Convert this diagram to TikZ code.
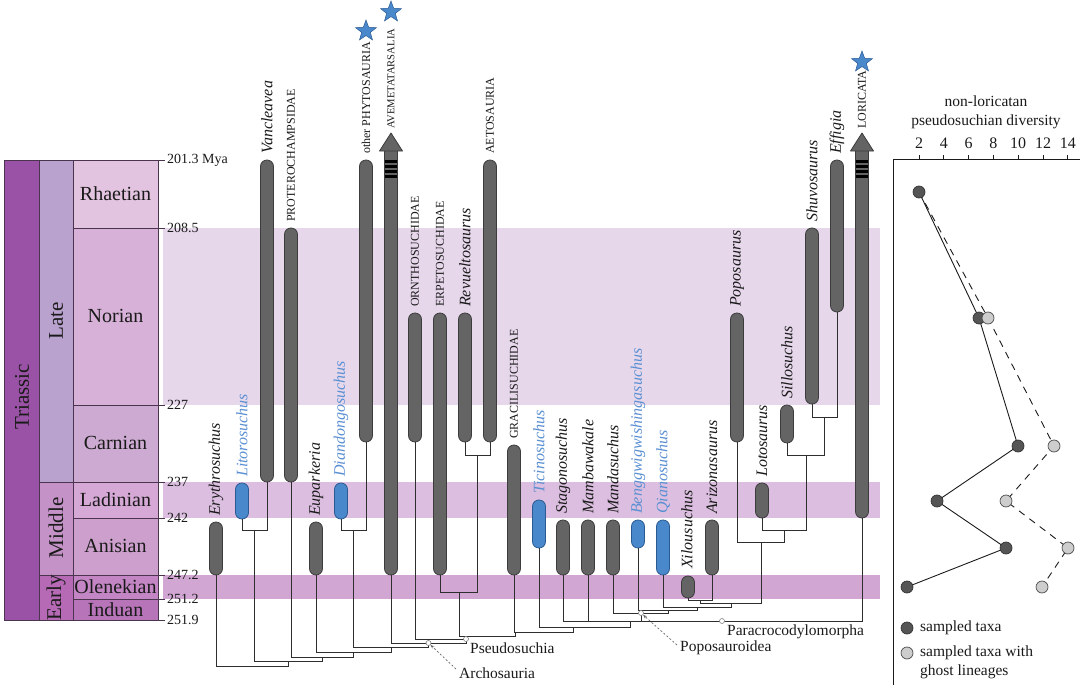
\documentclass[tikz,border=0pt]{standalone}
\usepackage{fontspec}
\setmainfont{Liberation Serif}
\usetikzlibrary{shapes.geometric,arrows.meta}
\definecolor{barfill}{HTML}{646464}
\definecolor{barline}{HTML}{3C3C3C}
\definecolor{bluefill}{HTML}{4A88CC}
\definecolor{blueline}{HTML}{2A5A92}
\definecolor{bluetext}{HTML}{5A8FD2}
\definecolor{treeline}{HTML}{2E2E2E}
\definecolor{cTri}{HTML}{9A52A6}
\definecolor{cLate}{HTML}{B9A2CE}
\definecolor{cMid}{HTML}{C592C8}
\definecolor{cEarly}{HTML}{B66AB6}
\definecolor{cRha}{HTML}{E3C4E0}
\definecolor{cNor}{HTML}{D7B1D7}
\definecolor{cCar}{HTML}{CDAAD1}
\definecolor{cLad}{HTML}{D6A8D5}
\definecolor{cAni}{HTML}{CC9FCD}
\definecolor{cOle}{HTML}{C385C4}
\definecolor{cInd}{HTML}{B874B9}
\definecolor{bNor}{HTML}{E6D7EB}
\definecolor{bLad}{HTML}{DCBFE0}
\definecolor{bOle}{HTML}{D2A6D3}
\definecolor{cellline}{HTML}{4B354E}
\definecolor{darkpt}{HTML}{555555}
\definecolor{lightpt}{HTML}{CDCDCD}
\definecolor{ink}{HTML}{1A1A1A}
\tikzset{
  gbar/.style={draw=barline, fill=barfill, line width=0.8pt, rectangle, rounded corners=6.4pt, minimum width=13pt, inner sep=0pt, outer sep=0pt},
  bbar/.style={gbar, draw=blueline, fill=bluefill},
  arrowbody/.style={draw=barline, fill=barfill, line width=0.8pt},
  tl/.style={draw=treeline, line width=1pt},
  taxit/.style={rotate=90, anchor=west, inner sep=0pt, font=\fontsize{16}{16}\selectfont\itshape, text=ink},
  taxbl/.style={taxit, text=bluetext},
  taxcap/.style={rotate=90, anchor=west, inner sep=0pt, font=\fontsize{12}{12}\selectfont, text=ink},
  cladelab/.style={anchor=west, inner sep=0pt, font=\fontsize{15.5}{15.5}\selectfont, text=ink},
  cell/.style={draw=cellline, line width=0.7pt},
  celltext/.style={font=\fontsize{20}{20}\selectfont, text=ink, inner sep=0pt},
  timelab/.style={anchor=west, font=\fontsize{14}{14}\selectfont, text=ink, inner sep=0pt},
  nodecirc/.style={circle, draw=gray, fill=white, inner sep=0pt, minimum size=5pt, line width=0.6pt},
  leader/.style={draw=gray!80!black, dashed, dash pattern=on 2pt off 2pt, line width=0.7pt, -{Stealth[length=4pt,width=3pt]}},
  bstar/.style={star, star points=5, star point ratio=2.4, fill=bluefill, draw=blueline, line width=0.5pt, minimum size=22pt, inner sep=0pt},
  dpt/.style={circle, draw=black!80, fill=darkpt, minimum size=12pt, inner sep=0pt, line width=0.7pt},
  lpt/.style={circle, draw=black!70, fill=lightpt, minimum size=12pt, inner sep=0pt, line width=0.7pt},
  panel/.style={font=\fontsize{15.5}{19}\selectfont, text=ink, inner sep=0pt}
}
\begin{document}
\begin{tikzpicture}[x=1pt,y=-1pt]
\useasboundingbox (0,0) rectangle (1080,685);
% background bands
\fill[bNor] (163,228) rectangle (880,405);
\fill[bLad] (163,482) rectangle (880,518);
\fill[bOle] (163,575) rectangle (880,599);
% time scale cells
\filldraw[cell, fill=cTri] (4,160) rectangle (39,620);
\filldraw[cell, fill=cLate] (39,160) rectangle (73,482);
\filldraw[cell, fill=cMid] (39,482) rectangle (73,575);
\filldraw[cell, fill=cEarly] (39,575) rectangle (73,620);
\filldraw[cell, fill=cRha] (73,160) rectangle (158,228);
\filldraw[cell, fill=cNor] (73,228) rectangle (158,405);
\filldraw[cell, fill=cCar] (73,405) rectangle (158,482);
\filldraw[cell, fill=cLad] (73,482) rectangle (158,518);
\filldraw[cell, fill=cAni] (73,518) rectangle (158,575);
\filldraw[cell, fill=cOle] (73,575) rectangle (158,599);
\filldraw[cell, fill=cInd] (73,599) rectangle (158,620);
\node[celltext, rotate=90, font=\fontsize{21}{21}\selectfont] (per) at (22,397) {Triassic};
\node[celltext, rotate=90, font=\fontsize{21}{21}\selectfont] (late) at (56,321) {Late};
\node[celltext, rotate=90, font=\fontsize{21}{21}\selectfont] (mid) at (56,528) {Middle};
\node[celltext, rotate=90, font=\fontsize{21}{21}\selectfont] (early) at (56,597.5) {Early};
\node[celltext] (rha) at (115.5,194) {Rhaetian};
\node[celltext] (nor) at (115.5,316) {Norian};
\node[celltext] (car) at (115.5,443) {Carnian};
\node[celltext] (lad) at (115.5,500) {Ladinian};
\node[celltext] (ani) at (115.5,546) {Anisian};
\node[celltext] (ole) at (115.5,587) {Olenekian};
\node[celltext] (ind) at (115.5,609.5) {Induan};
\foreach \yy/\tt in {160/201.3 Mya,228/208.5,405/227,482/237,518/242,575/247.2,599/251.2,620/251.9}{
  \draw[cell] (158,\yy) -- (165,\yy);
  \node[timelab] (t\yy) at (167,\yy) {\tt};
}
% ---------- bars ----------
\node[gbar, minimum height=53pt] (ery) at (216,548.5) {};
\node[bbar, minimum height=36pt] (lit) at (242,501) {};
\node[gbar, minimum height=322pt] (van) at (267,321) {};
\node[gbar, minimum height=254pt] (pro) at (291,355) {};
\node[gbar, minimum height=53pt] (eup) at (316,548.5) {};
\node[bbar, minimum height=36pt] (dia) at (341,501) {};
\node[gbar, minimum height=282pt] (phy) at (366,301) {};
\node[gbar, minimum height=129pt] (orn) at (415,377.5) {};
\node[gbar, minimum height=262pt] (erp) at (440,444) {};
\node[gbar, minimum height=129pt] (rev) at (465,377.5) {};
\node[gbar, minimum height=282pt] (aet) at (490,301) {};
\node[gbar, minimum height=130pt] (gra) at (514,510) {};
\node[bbar, minimum height=48pt] (tic) at (539,524) {};
\node[gbar, minimum height=55pt] (sta) at (563,547.5) {};
\node[gbar, minimum height=55pt] (mam) at (588,547.5) {};
\node[gbar, minimum height=55pt] (man) at (613,547.5) {};
\node[bbar, minimum height=28pt] (ben) at (638,534) {};
\node[bbar, minimum height=55pt] (qia) at (663,547.5) {};
\node[gbar, minimum height=22pt] (xil) at (688,587) {};
\node[gbar, minimum height=55pt] (ari) at (712,547.5) {};
\node[gbar, minimum height=129pt] (pop) at (737,377.5) {};
\node[gbar, minimum height=35pt] (lot) at (762,500.5) {};
\node[gbar, minimum height=38pt] (sil) at (787,424) {};
\node[gbar, minimum height=176pt] (shu) at (812,316) {};
\node[gbar, minimum height=152pt] (eff) at (837,236) {};
% arrows (Avemetatarsalia, Loricata)
\draw[arrowbody, rounded corners=6.4pt] (384.5,150) -- (384.5,575) -- (397.5,575) -- (397.5,150);
\draw[arrowbody, line join=round] (379.5,151) -- (391,133) -- (402.5,151) -- cycle;
\draw[arrowbody, rounded corners=6.4pt] (855.5,150) -- (855.5,518) -- (868.5,518) -- (868.5,150);
\draw[arrowbody, line join=round] (850.5,151) -- (862,133) -- (873.5,151) -- cycle;
\foreach \s in {160,165,170,175}{
  \fill[black] (385.2,\s) rectangle (396.8,{\s+2.8});
  \fill[black] (856.2,\s) rectangle (867.8,{\s+2.8});
}
\coordinate (ave) at (391,575);
\coordinate (lor) at (862,518);
% ---------- taxon labels ----------
\node[taxit] (l-ery) at (216,516) {Erythrosuchus};
\node[taxbl] (l-lit) at (242,477) {Litorosuchus};
\node[taxit] (l-van) at (267,154) {Vancleavea};
\node[taxcap] (l-pro) at (291,222) {PROTEROCHAMPSIDAE};
\node[taxit] (l-eup) at (316,516) {Euparkeria};
\node[taxbl] (l-dia) at (341,477) {Diandongosuchus};
\node[taxcap] (l-phy) at (366,154) {other PHYTOSAURIA};
\node[taxcap, font=\fontsize{10.6}{10.6}\selectfont] (l-ave) at (391,129) {AVEMETATARSALIA};
\node[taxcap] (l-orn) at (415,307) {ORNTHOSUCHIDAE};
\node[taxcap] (l-erp) at (440,307) {ERPETOSUCHIDAE};
\node[taxit] (l-rev) at (465,307) {Revueltosaurus};
\node[taxcap] (l-aet) at (490,154) {AETOSAURIA};
\node[taxcap] (l-gra) at (514,439) {GRACILISUCHIDAE};
\node[taxbl] (l-tic) at (539,494) {Ticinosuchus};
\node[taxit] (l-sta) at (563,514) {Stagonosuchus};
\node[taxit] (l-mam) at (588,514) {Mambawakale};
\node[taxit] (l-man) at (613,514) {Mandasuchus};
\node[taxbl] (l-ben) at (638,514) {Benggwigwishingasuchus};
\node[taxbl] (l-qia) at (663,514) {Qianosuchus};
\node[taxit] (l-xil) at (687,569) {Xilousuchus};
\node[taxit] (l-ari) at (712,514) {Arizonasaurus};
\node[taxit] (l-pop) at (737,307) {Poposaurus};
\node[taxit] (l-lot) at (762,477) {Lotosaurus};
\node[taxit] (l-sil) at (787,399) {Sillosuchus};
\node[taxit] (l-shu) at (812,222) {Shuvosaurus};
\node[taxit] (l-eff) at (837,154) {Effigia};
\node[taxcap] (l-lor) at (862,129) {LORICATA};
% stars
\node[bstar] (s-phy) at (366,31) {};
\node[bstar] (s-ave) at (391,12) {};
\node[bstar] (s-lor) at (862,62) {};
% ---------- tree ----------
\coordinate (nLV) at (254.5,530);
\coordinate (nDP) at (353.5,530);
\coordinate (nRA) at (477.5,455);
\coordinate (nERA) at (459,592);
\coordinate (nSE) at (824.5,417);
\coordinate (nSSE) at (806,455);
\coordinate (nLSSE) at (784,530);
\coordinate (nPLSSE) at (761,542);
\coordinate (nXA) at (700,600);
\coordinate (nXAP) at (731,603);
\coordinate (nQX) at (697,607);
\coordinate (nBQ) at (668,610);
\coordinate (nPopo) at (641,613);
\coordinate (nPara) at (630,621);
\coordinate (nP3) at (573,627);
\coordinate (nP2) at (515,632);
\coordinate (nP1) at (466,636);
\coordinate (nPseudo) at (466,639);
\coordinate (nArch) at (428.5,643);
\coordinate (nDPA) at (391,647);
\coordinate (nEDPA) at (353.5,652);
\coordinate (nPEDPA) at (322,657);
\coordinate (nLVP) at (288,661);
\coordinate (nRoot) at (252,666);
\draw[tl] (lit.south) |- (nLV);  \draw[tl] (van.south) |- (nLV);
\draw[tl] (dia.south) |- (nDP);  \draw[tl] (phy.south) |- (nDP);
\draw[tl] (rev.south) |- (nRA);  \draw[tl] (aet.south) |- (nRA);
\draw[tl] (erp.south) |- (nERA); \draw[tl] (nRA) |- (nERA);
\draw[tl] (shu.south) |- (nSE);  \draw[tl] (eff.south) |- (nSE);
\draw[tl] (sil.south) |- (nSSE); \draw[tl] (nSE) |- (nSSE);
\draw[tl] (lot.south) |- (nLSSE); \draw[tl] (nSSE) |- (nLSSE);
\draw[tl] (pop.south) |- (nPLSSE); \draw[tl] (nLSSE) |- (nPLSSE);
\draw[tl] (xil.south) |- (nXA);  \draw[tl] (ari.south) |- (nXA);
\draw[tl] (nXA) |- (nXAP);  \draw[tl] (nPLSSE) |- (nXAP);
\draw[tl] (qia.south) |- (nQX);  \draw[tl] (nXAP) |- (nQX);
\draw[tl] (ben.south) |- (nBQ);  \draw[tl] (nQX) |- (nBQ);
\draw[tl] (man.south) |- (nPopo); \draw[tl] (nBQ) |- (nPopo);
\draw[tl] (sta.south) |- (nPara); \draw[tl] (mam.south) |- (nPara);
\draw[tl] (nPopo) |- (nPara); \draw[tl] (lor) |- (nPara);
\draw[tl] (tic.south) |- (nP3); \draw[tl] (nPara) |- (nP3);
\draw[tl] (gra.south) |- (nP2); \draw[tl] (nP3) |- (nP2);
\draw[tl] (nERA) |- (nP1); \draw[tl] (nP2) |- (nP1);
\draw[tl] (orn.south) |- (nPseudo); \draw[tl] (nP1) |- (nPseudo);
\draw[tl] (ave) |- (nArch); \draw[tl] (nPseudo) |- (nArch);
\draw[tl] (nDP) |- (nDPA); \draw[tl] (nArch) |- (nDPA);
\draw[tl] (eup.south) |- (nEDPA); \draw[tl] (nDPA) |- (nEDPA);
\draw[tl] (pro.south) |- (nPEDPA); \draw[tl] (nEDPA) |- (nPEDPA);
\draw[tl] (nLV) |- (nLVP); \draw[tl] (nPEDPA) |- (nLVP);
\draw[tl] (ery.south) |- (nRoot); \draw[tl] (nLVP) |- (nRoot);
% clade circles and labels
\node[nodecirc] (c-arch) at (nArch) {};
\node[nodecirc] (c-pseudo) at (nPseudo) {};
\node[nodecirc] (c-popo) at (nPopo) {};
\node[nodecirc] (c-para) at (722,621) {};
\node[cladelab] (lab-arch) at (459,673) {Archosauria};
\node[cladelab] (lab-pseudo) at (470,648) {Pseudosuchia};
\node[cladelab] (lab-popo) at (680,648) {Poposauroidea};
\node[cladelab] (lab-para) at (727,632) {Paracrocodylomorpha};
\draw[leader] (lab-arch.west) ++(-3,-4) coordinate (a1) -- (c-arch);
\draw[leader] (lab-popo.west) ++(-3,-3) coordinate (p1) -- (c-popo);
% ---------- diversity panel ----------
\draw[line width=0.9pt, draw=ink] (893,685) -- (893,159) -- (1080,159);
\foreach \v in {2,4,...,14}{
  \pgfmathsetmacro{\xx}{919+(\v-2)*12.4}
  \draw[line width=0.8pt, draw=ink] (\xx,159) -- (\xx,155);
  \node[font=\fontsize{16}{16}\selectfont, text=ink, inner sep=0pt] (tk\v) at (\xx,143) {\v};
}
\node[panel, align=center] (ptitle) at (986,112) {non-loricatan\\pseudosuchian diversity};
\coordinate (d1) at (919,192);
\coordinate (d2) at (979,318);
\coordinate (d3) at (1018,446);
\coordinate (d4) at (937,501);
\coordinate (d5) at (1006,548);
\coordinate (d6) at (907,587);
\coordinate (g2) at (988,318);
\coordinate (g3) at (1054,446);
\coordinate (g4) at (1006,501);
\coordinate (g5) at (1068,548);
\coordinate (g6) at (1042,587);
\draw[line width=0.9pt, draw=ink, dash pattern=on 7pt off 6pt] (d1) -- (g2) -- (g3) -- (g4) -- (g5) -- (g6);
\draw[line width=0.9pt, draw=ink] (d1) -- (d2) -- (d3) -- (d4) -- (d5) -- (d6);
\foreach \p in {d1,d2,d3,d4,d5,d6}{ \node[dpt] (pt-\p) at (\p) {}; }
\foreach \p in {g2,g3,g4,g5,g6}{ \node[lpt] (pt-\p) at (\p) {}; }
\node[dpt] (leg1) at (907,628) {};
\node[lpt] (leg2) at (907,653) {};
\node[panel, anchor=west] (legt1) at (920,628) {sampled taxa};
\node[panel, anchor=west] (legt2) at (920,653) {sampled taxa with};
\node[panel, anchor=west] (legt3) at (920,672) {ghost lineages};
\end{tikzpicture}
\end{document}
